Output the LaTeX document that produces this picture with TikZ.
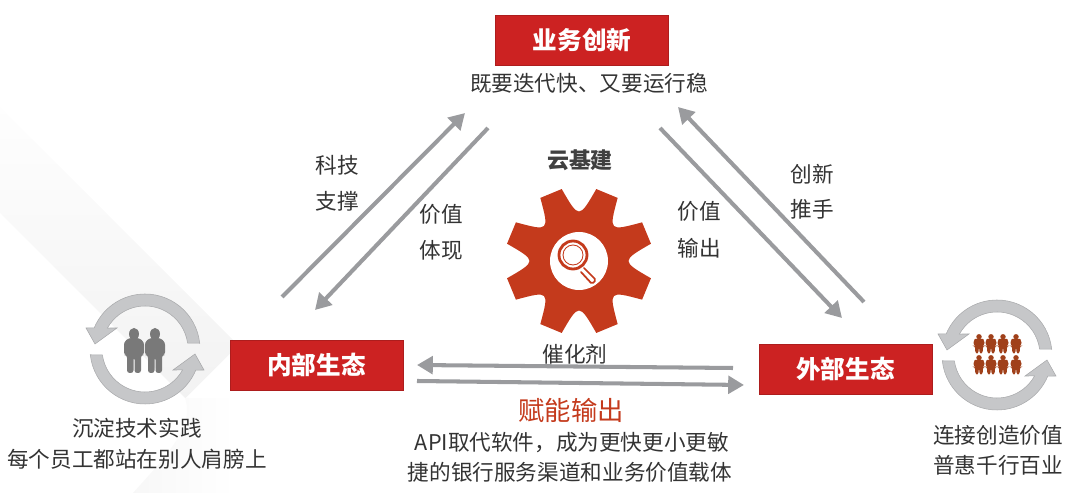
\documentclass[tikz,border=0pt]{standalone}
\usepackage{fontspec}
\setmainfont{Noto Sans CJK SC}
\usetikzlibrary{arrows.meta}
\definecolor{boxred}{HTML}{CC2222}
\definecolor{gearred}{HTML}{C43A1C}
\definecolor{arrowgray}{HTML}{9A9B9E}
\definecolor{ringgray}{HTML}{C6C7C9}
\definecolor{peoplebrown}{HTML}{A0401A}
\tikzset{
  redbox/.style={draw=boxred!85!black,fill=boxred,text=white,minimum width=173*0.02cm,minimum height=50*0.02cm,font=\fontsize{14}{14}\selectfont\bfseries},
  caption/.style={text=black!80,inner sep=0pt,font=\fontsize{12.3}{12.3}\selectfont},
  bigarrow/.style={draw=arrowgray,line width=2.3pt,-{Triangle[length=9pt,width=10pt]}},
  person/.pic={
    \fill (0,17) ellipse (5 and 6);
    \fill[rounded corners=1.5] (-10,-4)--(-10,9)--(-5,13)--(5,13)--(10,9)--(10,-4)--(7,-4)--(7,-22)--(0.5,-22)--(0.5,-6)--(-0.5,-6)--(-0.5,-22)--(-7,-22)--(-7,-4)--cycle;
  },
  ring/.pic={
    \foreach \r in {0,180}{
      \filldraw[fill=ringgray,draw=ringgray!85!black,line width=0.3pt,rotate=\r] (6:55) arc[start angle=6,end angle=157.5,radius=55]--(-59,21)--(-50,5)--(-28,21)--(150.8:43) arc[start angle=150.8,end angle=8,radius=43]--cycle;
    }
  }
}
\begin{document}
\begin{tikzpicture}[x=0.02cm,y=0.02cm]
\useasboundingbox (0,0) rectangle (1080,497);
% background
\begin{scope}
\clip (0,0) rectangle (1080,497);
\begin{scope}[shift={(0,284)},rotate=-45]
\shade[bottom color=black!5,top color=white] (-120,0) rectangle (262,75);
\end{scope}
\end{scope}
\shade[left color=black!3,right color=white] (185,99)..controls (195,70) and (165,40) .. (133,4)--(235,4)--(235,99)--cycle;
% boxes
\node[redbox] (biz) at (582,457) {业务创新};
\node[redbox] (inner) at (316.5,132) {内部生态};
\node[redbox] (outer) at (845.5,128) {外部生态};
\coordinate (ktail) at (282,200);
\coordinate (khead) at (465,384);
\coordinate (vtail) at (488,369);
\coordinate (vhead) at (315,187);
\coordinate (otail) at (660,369);
\coordinate (ohead) at (842,179);
\coordinate (ctail) at (864,195);
\coordinate (chead) at (678,390);
\coordinate (ltail) at (733,129);
\coordinate (lhead) at (417,132);
\coordinate (rtail) at (417,116);
\coordinate (rhead) at (744,112);
\draw[bigarrow] (ktail)--(khead);
\draw[bigarrow] (vtail)--(vhead);
\draw[bigarrow] (otail)--(ohead);
\draw[bigarrow] (ctail)--(chead);
\draw[bigarrow] (ltail)--(lhead);
\draw[bigarrow] (rtail)--(rhead);
% labels
\node[caption] (goal) at (589,414) {既要迭代快、又要运行稳};
\node[caption] at (337,332) {科技};
\node[caption] at (337,296) {支撑};
\node[caption] at (441,283) {价值};
\node[caption] at (441,247) {体现};
\node[caption] at (699,286) {价值};
\node[caption] at (699,249) {输出};
\node[caption] at (812,323) {创新};
\node[caption] at (812,288) {推手};
\node[caption] at (575,143) {催化剂};
\node[caption,text=gearred,font=\fontsize{15}{15}\selectfont] at (571,87) {赋能输出};
\node[caption] at (572,54) {API取代软件，成为更快更小更敏};
\node[caption] at (570,25) {捷的银行服务渠道和业务价值载体};
\node[caption] at (137,69) {沉淀技术实践};
\node[caption] at (137,38) {每个员工都站在别人肩膀上};
\node[caption] at (998,62) {连接创造价值};
\node[caption] at (998,32) {普惠千行百业};
\node[caption,text=black!75,font=\fontsize{12.5}{12.5}\selectfont\bfseries] (cloud) at (580,337) {云基建};
% gear
\begin{scope}[shift={(579,236)}]
\fill[gearred] (13.5:74)
  \foreach \a in {22.5,67.5,...,337.5}{
    -- (\a-9:74) -- (\a+9:74) .. controls (\a+22.5:42) .. (\a+36:74)
  } -- cycle;
\fill[white] (0,0) circle (29);
\draw[gearred,line width=1.6pt] (-6,6) circle (14);
\draw[gearred,line width=0.5pt] (-6,6) circle (10);
\draw[gearred,line width=1pt,line cap=round,rounded corners=1] (5,-7)--(17,-19)--(13,-23)--(2,-11);
\end{scope}
% rings
\pic at (145,148) {ring};
\pic at (997,142) {ring};
\pic[gray!95!black] at (134,146) {person};
\pic[gray!95!black] at (155,146) {person};
\foreach \x in {979,991,1003,1016}{
  \pic[color=peoplebrown,xscale=0.55,yscale=0.43] at (\x,153) {person};
  \pic[color=peoplebrown,xscale=0.55,yscale=0.43] at (\x,132) {person};
}
\end{tikzpicture}
\end{document}
